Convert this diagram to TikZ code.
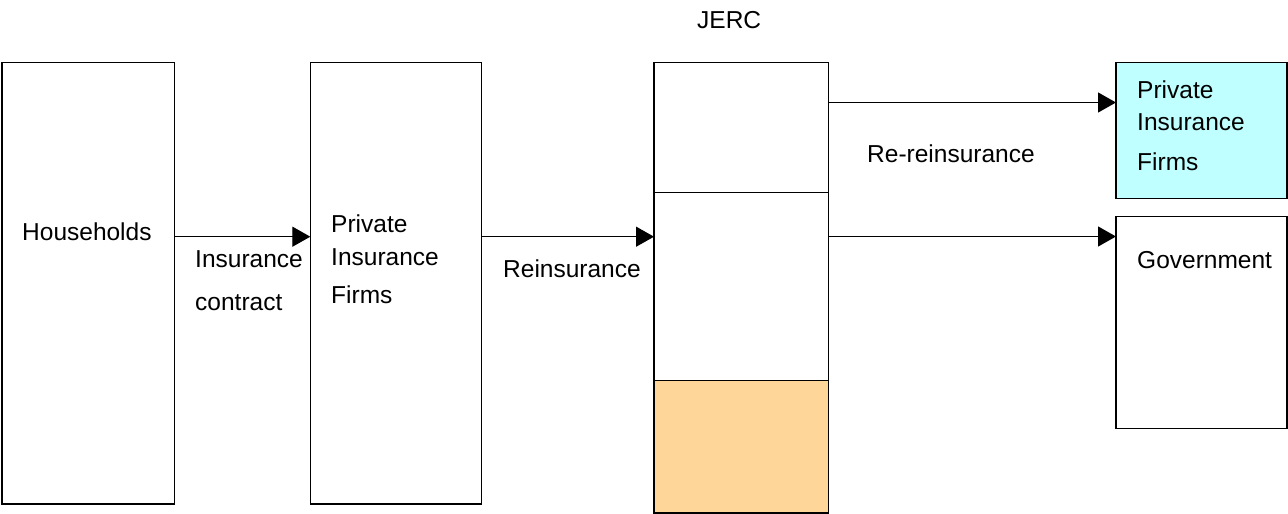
\documentclass[tikz,border=0pt]{standalone}
\usepackage{fontspec}
\setmainfont{Liberation Sans}
\usetikzlibrary{arrows.meta}
\definecolor{cyanfill}{RGB}{192,255,255}
\definecolor{orangefill}{RGB}{255,214,153}
\begin{document}
\begin{tikzpicture}[x=1pt,y=-1pt,
  box/.style={draw, line width=1.3pt, inner sep=0pt, outer sep=0pt, anchor=north west},
  lbl/.style={inner sep=0pt, anchor=base west, font=\fontsize{24.5}{28}\selectfont},
  arr/.style={line width=1.3pt, -{Triangle[length=18pt,width=20pt]}}]
\useasboundingbox (0,0) rectangle (1288,514);
% boxes
\node[box, minimum width=172.3pt, minimum height=441.5pt] (hh) at (2,62.5) {};
\node[box, minimum width=171.4pt, minimum height=441.5pt] (pif) at (310.3,62.5) {};
\node[box, minimum width=174.7pt, minimum height=130pt] (jtop) at (654,62.3) {};
\node[box, minimum width=174.7pt, minimum height=188.4pt] (jmid) at (654,192.3) {};
\node[box, fill=orangefill, minimum width=174.7pt, minimum height=132.3pt] (jbot) at (654,380.7) {};
\node[box, fill=cyanfill, minimum width=171pt, minimum height=135.5pt] (pif2) at (1116,62.7) {};
\node[box, minimum width=171pt, minimum height=211.7pt] (gov) at (1116,216.7) {};
% arrow levels
\coordinate (r1) at (0,236.7);
\coordinate (r2) at (0,102.5);
\coordinate (r3) at (0,236.5);
\draw[arr] (hh.east |- r1) -- (pif.west |- r1);
\draw[arr] (pif.east |- r1) -- (jmid.west |- r1);
\draw[arr] (jtop.east |- r2) -- (pif2.west |- r2);
\draw[arr] (jmid.east |- r3) -- (gov.west |- r3);
% labels
\node[lbl] (tjerc) at (697,28) {JERC};
\node[lbl] (thh) at (22,240) {Households};
\node[lbl] (tic1) at (195,267) {Insurance};
\node[lbl] (tic2) at (195,310) {contract};
\node[lbl] (tp1) at (331,232) {Private};
\node[lbl] (tp2) at (331,265) {Insurance};
\node[lbl] (tp3) at (331,303) {Firms};
\node[lbl] (tre) at (503,277) {Reinsurance};
\node[lbl] (trr) at (867,162) {Re-reinsurance};
\node[lbl] (tq1) at (1137,98) {Private};
\node[lbl] (tq2) at (1137,130) {Insurance};
\node[lbl] (tq3) at (1137,170) {Firms};
\node[lbl] (tgov) at (1137,268) {Government};
\end{tikzpicture}
\end{document}
